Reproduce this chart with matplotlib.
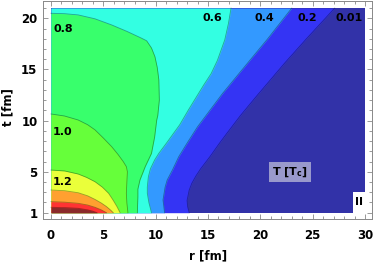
import matplotlib
matplotlib.use("Agg")
import matplotlib.pyplot as plt
from matplotlib.ticker import MultipleLocator, FixedLocator

# domain of the computed field
R_MIN, R_MAX = 0.0, 30.0
T_MIN, T_MAX = 1.0, 21.0

# contour lines T/Tc: r [fm] at given t [fm]
c02_t = [21.0, 18.0, 15.6, 12.35, 10.5, 8.76, 7.8, 6.5, 5.3, 4.6, 3.87, 3.2, 2.2, 1.6, 1.0]
c02_r = [27.1, 24.4, 22.3, 19.6, 18.1, 16.8, 16.1, 15.2, 14.3, 13.85, 13.45, 13.2, 13.0, 13.05, 13.2]

c04_t = [21.0, 18.0, 15.9, 12.67, 9.4, 7.8, 6.47, 5.17, 4.2, 3.5, 2.24, 1.0]
c04_r = [23.0, 20.7, 19.0, 16.4, 14.0, 13.0, 12.2, 11.6, 11.1, 10.9, 10.7, 10.85]

c06_t = [21.0, 19.5, 17.9, 15.9, 14.6, 13.5, 12.5, 11.0, 9.6, 7.9, 6.8, 6.15, 5.3, 4.5, 3.5, 2.9, 2.0, 1.0]
c06_r = [17.2, 16.95, 16.6, 15.9, 15.3, 14.6, 14.0, 13.1, 12.3, 11.1, 10.3, 9.9, 9.5, 9.3, 9.2, 9.2, 9.35, 9.6]

c08_t = [20.49, 20.45, 20.33, 19.95, 19.35, 18.7, 18.05, 17.8, 17.1, 16.25, 15.2, 14.0, 12.0,
         10.5, 10.06, 8.4, 6.8, 5.5, 4.2, 3.3, 2.56, 1.0]
c08_r = [0.0, 1.3, 2.6, 4.2, 5.8, 7.3, 8.66, 9.14, 9.6, 9.93, 10.15, 10.3, 10.35,
         10.2, 10.1, 9.9, 9.6, 9.0, 8.5, 8.3, 8.3, 8.25]

c10_t = [10.65, 10.45, 10.06, 9.6, 9.1, 8.3, 7.45, 6.7, 6.0, 5.5, 5.0, 4.0, 2.9, 1.95, 1.0]
c10_r = [0.0, 1.3, 2.6, 3.5, 4.2, 5.0, 5.8, 6.4, 6.9, 7.2, 7.3, 7.25, 7.2, 7.25, 7.35]

c12_t = [5.17, 5.08, 4.78, 4.45, 4.03, 3.5, 2.9, 2.2, 1.6, 1.0]
c12_r = [0.0, 1.3, 2.6, 3.4, 4.2, 4.9, 5.5, 5.95, 6.3, 6.6]

c14_t = [3.22, 3.15, 2.95, 2.65, 2.3, 1.95, 1.6, 1.25, 1.0]
c14_r = [0.0, 1.3, 2.6, 3.5, 4.2, 4.8, 5.3, 5.7, 5.95]

c16_t = [2.08, 2.03, 1.92, 1.75, 1.53, 1.28, 1.0]
c16_r = [0.0, 1.3, 2.6, 3.5, 4.2, 4.8, 5.3]

c18_t = [1.53, 1.5, 1.43, 1.28, 1.15, 1.0]
c18_r = [0.0, 1.3, 2.6, 3.5, 4.0, 4.4]

band_colors = ["#3434f4", "#3399ff", "#33ffe2", "#38ff6c", "#66ff3a",
               "#eaff3a", "#ffa030", "#ff3333", "#8b2a2a"]
lowest_color = "#3232a8"

labels = ["0.8", "1.0", "1.2", "0.6", "0.4", "0.2", "0.01"]
label_r = [0.2, 0.2, 0.2, 15.4, 20.4, 24.45, 28.5]
label_t = [18.96, 8.89, 4.0, 20.03, 20.03, 20.03, 20.03]

plt.rcParams['font.family'] = ['DejaVu Sans']
fig = plt.figure(figsize=(3.74, 2.63), dpi=100)
ax = fig.add_axes([43 / 374, 1 - 219 / 263, 329 / 374, 218 / 263])

ax.fill_betweenx([T_MIN, T_MAX], R_MIN, R_MAX, color=lowest_color, lw=0)
curves = [(c02_t, c02_r), (c04_t, c04_r), (c06_t, c06_r), (c08_t, c08_r),
          (c10_t, c10_r), (c12_t, c12_r), (c14_t, c14_r), (c16_t, c16_r),
          (c18_t, c18_r)]
for (tt, rr), col in zip(curves, band_colors):
    ax.fill_betweenx(tt, R_MIN, rr, color=col, lw=0)
for tt, rr in curves:
    ax.plot(rr, tt, color="k", alpha=0.35, lw=0.6)

for s, x, y in zip(labels, label_r, label_t):
    ha = "left" if x < 1 else "center"
    ax.text(x, y, s, fontsize=8, fontweight="bold", ha=ha, va="center")

ax.text(22.8, 4.98, r"T [T$_{\mathbf{c}}$]", fontsize=8, fontweight="bold",
        ha="center", va="center",
        bbox=dict(facecolor="#9999cc", edgecolor="none", pad=2.5))
ax.add_patch(plt.Rectangle((28.84, T_MIN), R_MAX - 28.84, 2.0,
                           facecolor="white", edgecolor="none", zorder=3))
ax.text(29.45, 2.05, "II", fontsize=8, fontweight="bold", ha="center",
        va="center", zorder=4)

ax.set_xlim(-0.76, 30.66)
ax.set_ylim(0.384, 21.69)
ax.xaxis.set_major_locator(FixedLocator([0, 5, 10, 15, 20, 25, 30]))
ax.xaxis.set_minor_locator(MultipleLocator(1))
ax.yaxis.set_major_locator(FixedLocator([1, 5, 10, 15, 20]))
ax.yaxis.set_minor_locator(MultipleLocator(1))
ax.tick_params(which="both", direction="in", top=True, right=True,
               color="#888888", width=0.6)
ax.tick_params(which="major", length=3.5, labelsize=8.5)
ax.tick_params(which="minor", length=2)
ax.tick_params(axis="x", pad=7)
ax.tick_params(axis="y", pad=4)
for lab in ax.get_xticklabels() + ax.get_yticklabels():
    lab.set_fontweight("bold")
for sp in ax.spines.values():
    sp.set_color("#888888")
    sp.set_linewidth(0.7)

fig.text(208 / 374, 1 - 256 / 263, "r [fm]", fontsize=8.5, fontweight="bold",
         ha="center", va="center")
fig.text(8 / 374, 1 - 107 / 263, "t [fm]", fontsize=8.5, fontweight="bold",
         ha="center", va="center", rotation=90)

fig.savefig("out.png", dpi=100)
